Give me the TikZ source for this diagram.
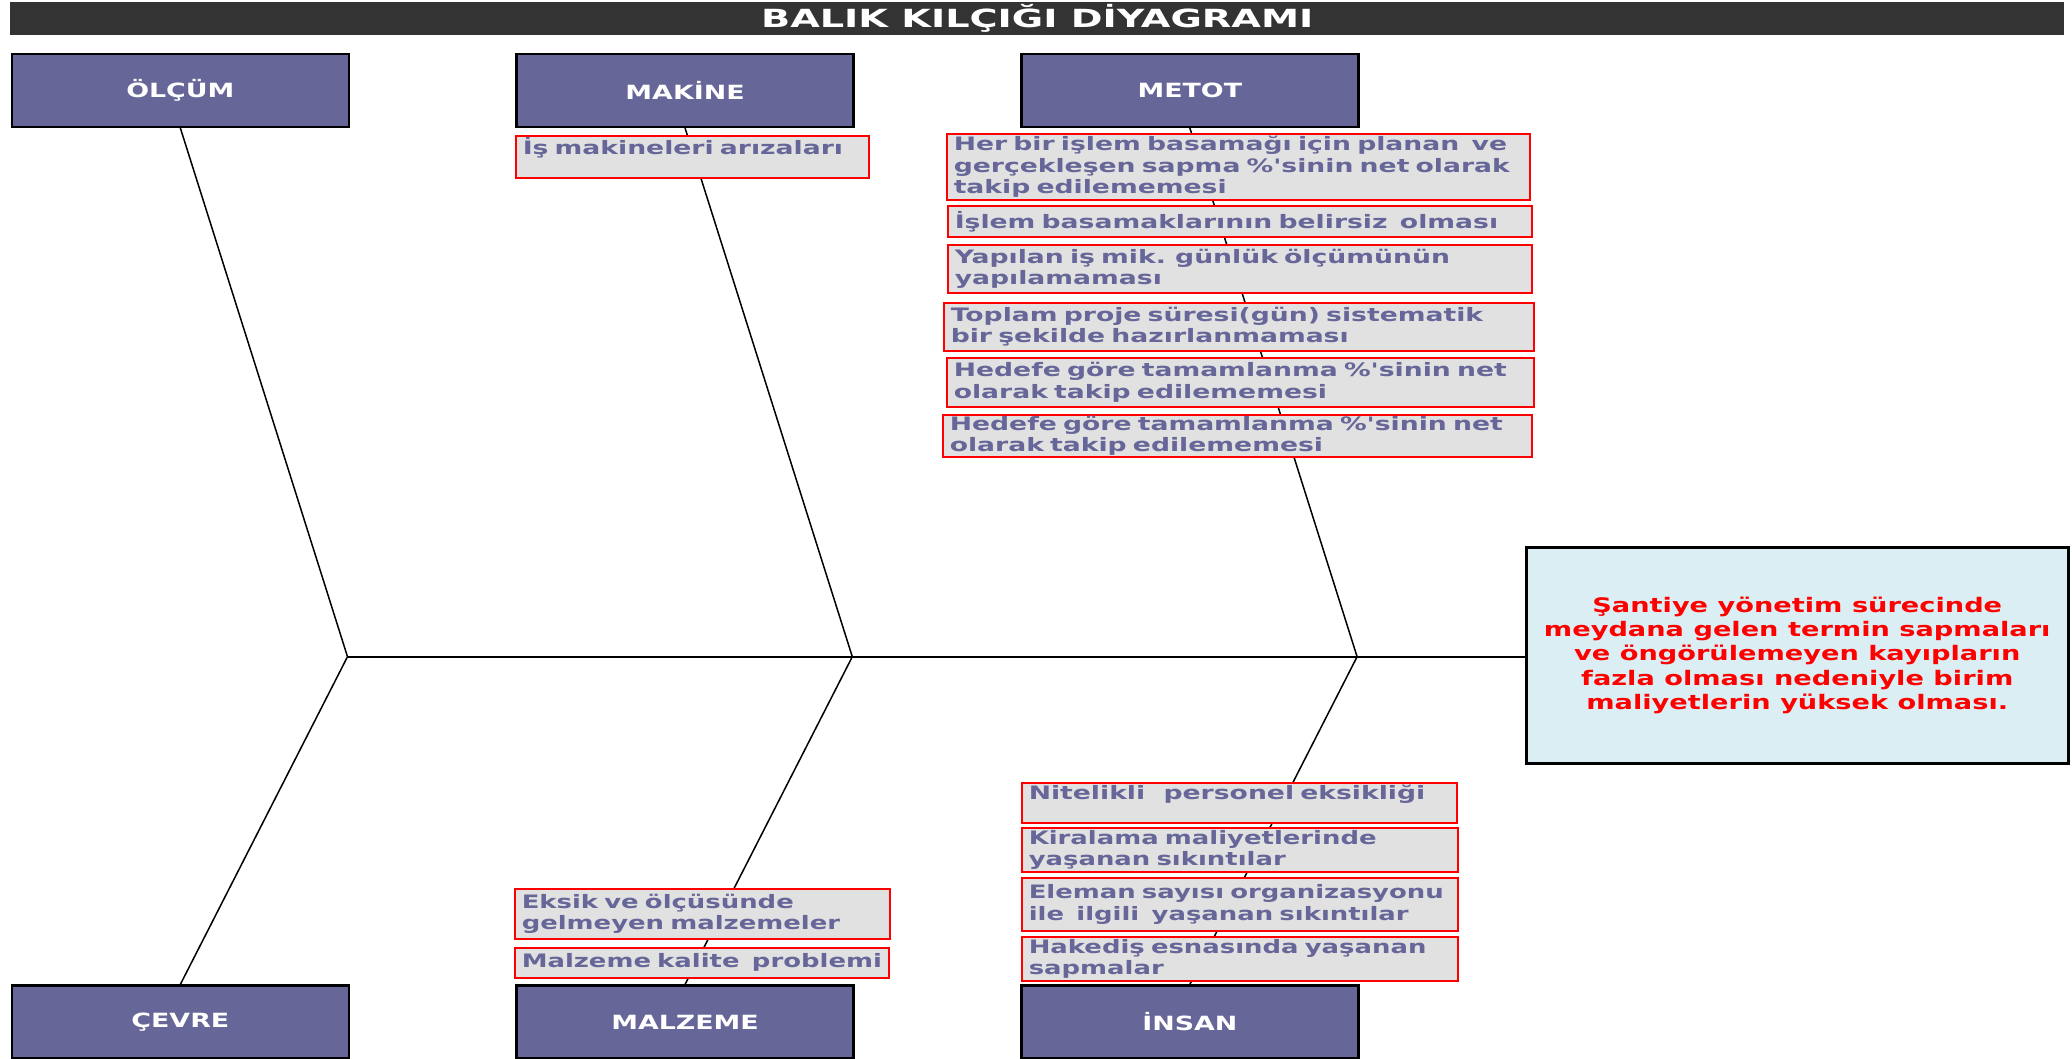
\documentclass[tikz,border=0pt]{standalone}
\usepackage{fontspec}
\newfontfamily\labfont{DejaVu Sans}[FakeStretch=1.37]
\newfontfamily\titfont{DejaVu Sans}[FakeStretch=1.53]
\newfontfamily\causefont{DejaVu Sans}[FakeStretch=1.44]
\newfontfamily\causefontb{DejaVu Sans}[FakeStretch=1.40]
\newfontfamily\efffont{DejaVu Sans}[FakeStretch=1.36]
\definecolor{catfill}{HTML}{666699}
\definecolor{causetext}{HTML}{666699}
\definecolor{causefill}{HTML}{E1E1E1}
\definecolor{efffill}{HTML}{DAEEF3}
\definecolor{titlebar}{HTML}{333333}
\begin{document}
\begin{tikzpicture}[x=1pt,y=-1pt,
  catbox/.style={draw=black, line width=2.5pt, fill=catfill, minimum width=337pt, minimum height=72.6pt,
    anchor=north west, inner sep=0pt, text=white, font=\labfont\bfseries\fontsize{19.6}{23}\selectfont},
  causebox/.style={draw=red, line width=1.5pt, fill=causefill, anchor=north west, inner xsep=7pt, inner ysep=1pt,
    align=left, text=causetext, font=\causefont\bfseries\fontsize{18.5}{21.5}\selectfont},
  causeboxb/.style={causebox, font=\causefontb\bfseries\fontsize{18.5}{21.5}\selectfont},
  bone/.style={draw=black, line width=1.5pt},
  spine/.style={draw=black, line width=2pt}]
\useasboundingbox (0,0) rectangle (2072,1058);
% title
\node[fill=titlebar, minimum width=2054pt, minimum height=33pt, anchor=north west, inner sep=0pt,
  text=white, font=\titfont\bfseries\fontsize{25}{28}\selectfont] (title) at (10,2) {BALIK KILÇIĞI DİYAGRAMI};
% junctions
\coordinate (j1) at (347.5,656.7);
\coordinate (j2) at (852.3,656.7);
\coordinate (j3) at (1357.1,656.7);
% categories
\node[catbox] (olcum) at (10.6,52.9) {ÖLÇÜM};
\node[catbox] (makine) at (515.3,52.9) {MAKİNE};
\node[catbox] (metot) at (1020.1,52.9) {METOT};
\node[catbox] (cevre) at (10.6,984.4) {ÇEVRE};
\node[catbox] (malzeme) at (515.3,984.4) {MALZEME};
\node[catbox] (insan) at (1020.1,984.4) {İNSAN};
% effect
\node[draw=black, line width=2.5pt, fill=efffill, minimum width=542pt, minimum height=216pt, anchor=north west,
  align=center, text=red, font=\efffont\bfseries\fontsize{20}{24.2}\selectfont] (effect) at (1525,546)
  {Şantiye yönetim sürecinde\\meydana gelen termin sapmaları\\ve öngörülemeyen kayıpların\\fazla olması nedeniyle birim\\maliyetlerin yüksek olması.};
% bones
\draw[bone] (olcum.south) -- (j1) -- (cevre.north);
\draw[bone] (makine.south) -- (j2) -- (malzeme.north);
\draw[bone] (metot.south) -- (j3) -- (insan.north);
\draw[spine] (j1) -- (j1 -| effect.west);
% causes: makine
\node[causebox, text width=339pt, minimum height=42pt] (mk1) at (515,135) {\mbox{İş makineleri arızaları}\\\mbox{}};
% causes: metot
\node[causebox, text width=569pt, minimum height=66pt] (mt1) at (946,133) {\mbox{Her bir işlem basamağı için planan\ \ ve}\\\mbox{gerçekleşen sapma \%'sinin net olarak}\\takip edilememesi};
\node[causebox, text width=570pt, minimum height=31pt] (mt2) at (947,205) {\mbox{İşlem basamaklarının belirsiz\ \ olması}};
\node[causebox, text width=570pt, minimum height=48pt] (mt3) at (947,244) {\mbox{Yapılan iş mik. günlük ölçümünün}\\yapılamaması};
\node[causebox, text width=576pt, minimum height=48pt] (mt4) at (943,302) {\mbox{Toplam proje süresi(gün) sistematik}\\\mbox{bir şekilde hazırlanmaması}};
\node[causebox, text width=573pt, minimum height=49pt] (mt5) at (946,357) {\mbox{Hedefe göre tamamlanma \%'sinin net}\\\mbox{olarak takip edilememesi}};
\node[causebox, text width=575pt, minimum height=42pt] (mt6) at (942,414) {\mbox{Hedefe göre tamamlanma \%'sinin net}\\\mbox{olarak takip edilememesi}};
% causes: insan
\node[causebox, text width=421pt, minimum height=40pt] (in1) at (1021,782) {\mbox{Nitelikli\ \ \hspace{6pt}personel eksikliği}\\\mbox{}};
\node[causeboxb, text width=422pt, minimum height=44pt] (in2) at (1021,827) {\mbox{Kiralama maliyetlerinde}\\\mbox{yaşanan sıkıntılar}};
\node[causeboxb, text width=422pt, minimum height=53pt] (in3) at (1021,877) {\mbox{Eleman sayısı organizasyonu}\\\mbox{ile\ \ ilgili\ \ yaşanan sıkıntılar}};
\node[causeboxb, text width=422pt, minimum height=44pt] (in4) at (1021,936) {\mbox{Hakediş esnasında yaşanan}\\sapmalar};
% causes: malzeme
\node[causeboxb, text width=361pt, minimum height=50pt] (mz1) at (514,888) {\mbox{Eksik ve ölçüsünde}\\\mbox{gelmeyen malzemeler}};
\node[causeboxb, text width=360pt, minimum height=30pt] (mz2) at (514,947) {\mbox{Malzeme kalite\ \ problemi}};
\end{tikzpicture}
\end{document}
